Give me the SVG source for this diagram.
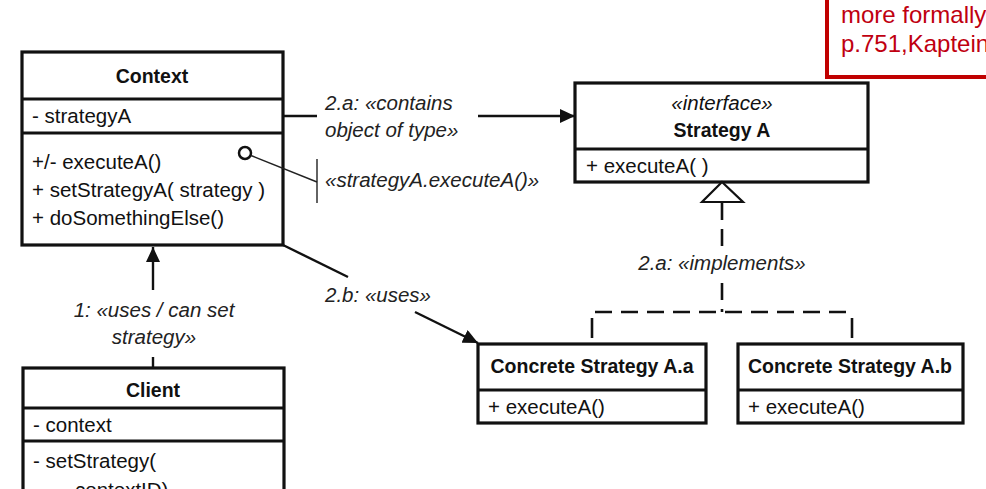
<svg xmlns="http://www.w3.org/2000/svg" width="986" height="489" viewBox="0 0 986 489">
<style>
  text { font-family: "Liberation Sans", Arial, sans-serif; fill: #111; }
  .t { font-size: 20.5px; }
  .b { font-size: 19.5px; font-weight: bold; }
  .i { font-size: 20.5px; font-style: italic; fill: #222; }
  .box { fill: #fff; stroke: #111; stroke-width: 3.2; }
  .div { stroke: #111; stroke-width: 3; }
  .con { fill: none; stroke: #111; stroke-width: 2.4; }
  .thin { fill: none; stroke: #222; stroke-width: 1.4; }
  .dash { fill: none; stroke: #111; stroke-width: 2.6; stroke-dasharray: 17 9; }
  .solid { fill: none; stroke: #111; stroke-width: 2.6; }
  .red { font-size: 24px; fill: #c00010; }
</style>
<defs>
  <marker id="arr" markerUnits="userSpaceOnUse" markerWidth="16" markerHeight="14" refX="15" refY="7" orient="auto">
    <path d="M0,0 L15,7 L0,14 z" fill="#111"/>
  </marker>
</defs>

<g id="note-red">
  <rect x="827" y="-10" width="180" height="87" fill="#fff" stroke="#c00000" stroke-width="4"/>
  <text class="red" x="841" y="23">more formally</text>
  <text class="red" x="841" y="52">p.751,Kaptein</text>
</g>

<g id="context">
  <rect class="box" x="22" y="52" width="261" height="193"/>
  <line class="div" x1="22" y1="99" x2="283" y2="99"/>
  <line class="div" x1="22" y1="133" x2="283" y2="133"/>
  <text class="b" x="152" y="83" text-anchor="middle">Context</text>
  <text class="t" x="32" y="123">- strategyA</text>
  <text class="t" x="32" y="169">+/- executeA()</text>
  <text class="t" x="32" y="197">+ setStrategyA( strategy )</text>
  <text class="t" x="32" y="225">+ doSomethingElse()</text>
</g>

<g id="strategy-a">
  <rect class="box" x="575" y="83" width="293" height="99"/>
  <line class="div" x1="575" y1="149" x2="868" y2="149"/>
  <text class="i" x="722" y="110" text-anchor="middle" style="fill:#111">«interface»</text>
  <text class="b" x="722" y="137" text-anchor="middle">Strategy A</text>
  <text class="t" x="586" y="173">+ executeA( )</text>
</g>

<g id="concrete-a">
  <rect class="box" x="478" y="344" width="228" height="79"/>
  <line class="div" x1="478" y1="390" x2="706" y2="390"/>
  <text class="b" x="592" y="373" text-anchor="middle">Concrete Strategy A.a</text>
  <text class="t" x="488" y="414">+ executeA()</text>
</g>

<g id="concrete-b">
  <rect class="box" x="738" y="344" width="225" height="79"/>
  <line class="div" x1="738" y1="390" x2="963" y2="390"/>
  <text class="b" x="850" y="373" text-anchor="middle">Concrete Strategy A.b</text>
  <text class="t" x="748" y="414">+ executeA()</text>
</g>

<g id="client">
  <rect class="box" x="23" y="368" width="261" height="160"/>
  <line class="div" x1="23" y1="408" x2="284" y2="408"/>
  <line class="div" x1="23" y1="441" x2="284" y2="441"/>
  <text class="b" x="153" y="397" text-anchor="middle">Client</text>
  <text class="t" x="33" y="432">- context</text>
  <text class="t" x="33" y="468">- setStrategy(</text>
  <text class="t" x="75" y="497">contextID)</text>
</g>

<g id="connectors">
  <!-- 2.a contains -->
  <line class="con" x1="283" y1="116" x2="317" y2="116"/>
  <line class="con" x1="478" y1="116" x2="575" y2="116" marker-end="url(#arr)"/>
  <!-- note to executeA -->
  <circle cx="245" cy="153" r="6" fill="#fff" stroke="#111" stroke-width="2.5"/>
  <line class="thin" x1="251" y1="155.5" x2="317" y2="182"/>
  <line class="thin" x1="317" y1="159" x2="317" y2="203"/>
  <!-- 1: uses / can set strategy -->
  <line class="con" x1="153" y1="290" x2="153" y2="247" marker-end="url(#arr)"/>
  <line class="con" x1="153" y1="357" x2="153" y2="368"/>
  <!-- 2.b uses -->
  <line class="con" x1="283" y1="245" x2="348" y2="277"/>
  <line class="con" x1="415" y1="312" x2="478" y2="343" marker-end="url(#arr)"/>
  <!-- 2.a implements -->
  <path d="M722,182 L743,202 L702,202 Z" fill="#fff" stroke="#111" stroke-width="2.2"/>
  <line class="dash" x1="722" y1="203" x2="722" y2="247"/>
  <line class="dash" x1="722" y1="283" x2="722" y2="312"/>
  <line class="dash" x1="595" y1="312" x2="852" y2="312"/>
  <line class="solid" x1="592" y1="318" x2="592" y2="338"/>
  <line class="solid" x1="852" y1="318" x2="852" y2="338"/>
  <!-- labels -->
  <text class="i" x="325" y="110">2.a: «contains</text>
  <text class="i" x="325" y="137">object of type»</text>
  <text class="i" x="325" y="187">«strategyA.executeA()»</text>
  <text class="i" x="154" y="317" text-anchor="middle">1: «uses / can set</text>
  <text class="i" x="154" y="344" text-anchor="middle">strategy»</text>
  <text class="i" x="325" y="302">2.b: «uses»</text>
  <text class="i" x="722" y="270" text-anchor="middle">2.a: «implements»</text>
</g>
</svg>
